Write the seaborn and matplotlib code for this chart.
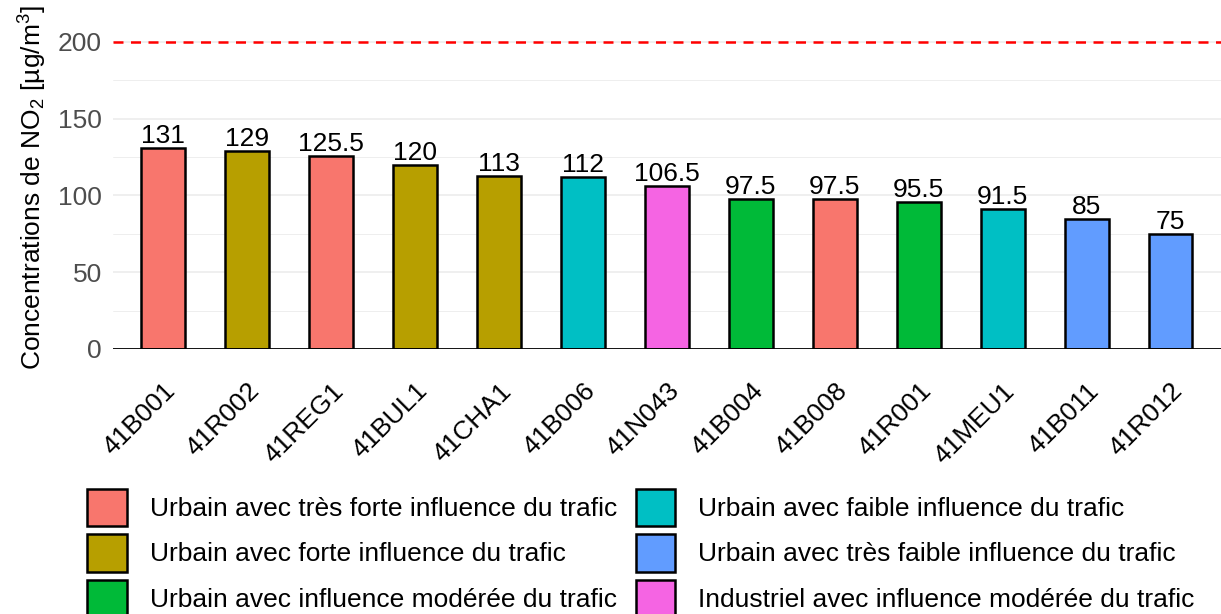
import pandas as pd
import matplotlib
matplotlib.use("Agg")
import matplotlib.pyplot as plt
import matplotlib.transforms as mtransforms
import seaborn as sns

# Données
stations = ["41B001", "41R002", "41REG1", "41BUL1", "41CHA1", "41B006", "41N043",
            "41B004", "41B008", "41R001", "41MEU1", "41B011", "41R012"]
valeurs = [131, 129, 125.5, 120, 113, 112, 106.5, 97.5, 97.5, 95.5, 91.5, 85, 75]
types = ["tres_forte", "forte", "tres_forte", "forte", "forte", "faible", "industriel",
         "moderee", "tres_forte", "moderee", "faible", "tres_faible", "tres_faible"]

ordre_types = ["tres_forte", "forte", "moderee", "faible", "tres_faible", "industriel"]
libelles = [
    "Urbain avec très forte influence du trafic",
    "Urbain avec forte influence du trafic",
    "Urbain avec influence modérée du trafic",
    "Urbain avec faible influence du trafic",
    "Urbain avec très faible influence du trafic",
    "Industriel avec influence modérée du trafic",
]
couleurs = ["#F8766D", "#B79F00", "#00BA38", "#00BFC4", "#619CFF", "#F564E3"]
seuil = 200

df = pd.DataFrame({"station": stations, "valeur": valeurs, "type": types})

sns.set_theme(style="white")
plt.rcParams["font.family"] = ["Liberation Sans", "DejaVu Sans"]
plt.rcParams["mathtext.fontset"] = "custom"
plt.rcParams["mathtext.rm"] = "Liberation Sans"
plt.rcParams["mathtext.it"] = "Liberation Sans:italic"

fs = 19

fig = plt.figure(figsize=(12.21, 6.14), dpi=100)
ax = fig.add_axes([0.0925, 0.4316, 0.9075, 0.525])

# grille
for y in range(25, 201, 25):
    lw = 1.1 if y % 50 == 0 else 0.6
    ax.axhline(y, color="#EBEBEB", lw=lw, zorder=0)

sns.barplot(data=df, x="station", y="valeur", hue="type", hue_order=ordre_types,
            palette=couleurs, saturation=1, dodge=False, width=0.52,
            edgecolor="black", linewidth=1.8, ax=ax, legend=True, zorder=2)

for c in ax.containers:
    labels = [f"{v:g}" if v == v else "" for v in c.datavalues]
    ax.bar_label(c, labels=labels, padding=0, fontsize=fs, color="black")

ax.axhline(seuil, color="red", ls=(0, (4, 3)), lw=1.8, zorder=3)
ax.axhline(0, color="black", lw=1.3, zorder=4)

ax.set_xlim(-0.6, 12.6)
ax.set_ylim(0, 210)
ax.set_yticks([0, 50, 100, 150, 200])
ax.tick_params(axis="y", labelsize=fs, labelcolor="#4D4D4D", length=0, pad=8)
ax.tick_params(axis="x", labelsize=fs, labelcolor="black", length=0, pad=2)
decal = mtransforms.ScaledTranslation(0.0, -0.27, fig.dpi_scale_trans)
for t in ax.get_xticklabels():
    t.set_rotation(45)
    t.set_ha("right")
    t.set_rotation_mode("anchor")
    t.set_transform(t.get_transform() + decal)
ax.set_xlabel("")
ax.set_ylabel("Concentrations de NO$_2$ [µg/m$^3$]", fontsize=fs, color="black", labelpad=6)
for s in ax.spines.values():
    s.set_visible(False)

handles, _ = ax.get_legend_handles_labels()
ax.get_legend().remove()
for h in handles:
    h.set_edgecolor("black")
    h.set_linewidth(1.8)
fig.legend(handles, libelles, ncol=2, loc="upper center", bbox_to_anchor=(0.525, 0.225),
           frameon=False, fontsize=fs, labelcolor="black", handlelength=1.5,
           handleheight=1.8, borderpad=0, labelspacing=0.3, handletextpad=0.87,
           columnspacing=0.7)

fig.savefig("out.png", dpi=100)
